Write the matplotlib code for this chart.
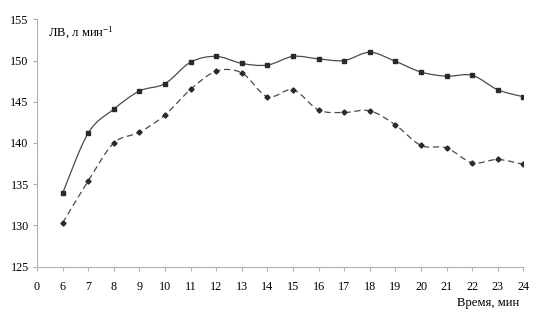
import matplotlib
matplotlib.use("Agg")
import matplotlib.pyplot as plt
from matplotlib.path import Path
from matplotlib.patches import PathPatch
import numpy as np

categories = ["0", "6", "7", "8", "9", "10", "11", "12", "13", "14", "15",
              "16", "17", "18", "19", "20", "21", "22", "23", "24"]
solid_vals = [133.9, 141.2, 144.1, 146.3, 147.2, 149.8, 150.5, 149.65, 149.45,
              150.5, 150.2, 150.0, 151.0, 149.9, 148.6, 148.1, 148.2, 146.45, 145.6]
dashed_vals = [130.3, 135.4, 140.0, 141.3, 143.4, 146.5, 148.7, 148.5, 145.6,
               146.45, 144.0, 143.7, 143.9, 142.2, 139.7, 139.4, 137.6, 138.0, 137.4]
y_ticks = [125, 130, 135, 140, 145, 150, 155]
y_label = "ЛВ, л мин$^{-1}$"
x_label = "Время, мин"

plt.rcParams['font.family'] = ['Liberation Serif', 'DejaVu Serif']
plt.rcParams['mathtext.fontset'] = 'custom'
plt.rcParams['mathtext.rm'] = 'Liberation Serif'
plt.rcParams['mathtext.it'] = 'Liberation Serif'

fig = plt.figure(figsize=(5.4, 3.36), dpi=100)
ax = fig.add_axes([0.0685, 0.2063, 0.9009, 0.7363])

xpos = np.arange(len(categories))
data_x = xpos[1:]


def smooth_path(x, y):
    pts = np.column_stack([x, y]).astype(float)
    n = len(pts)
    verts = [pts[0]]
    codes = [Path.MOVETO]
    for i in range(n - 1):
        p0 = pts[i - 1] if i > 0 else pts[i]
        p1 = pts[i]
        p2 = pts[i + 1]
        p3 = pts[i + 2] if i + 2 < n else pts[i + 1]
        c1 = p1 + (p2 - p0) / 6.0
        c2 = p2 - (p3 - p1) / 6.0
        verts += [c1, c2, p2]
        codes += [Path.CURVE4] * 3
    return Path(verts, codes)


line_color = '#4a4a4a'
ax.add_patch(PathPatch(smooth_path(data_x, solid_vals), fill=False,
                       edgecolor=line_color, lw=0.9))
ax.add_patch(PathPatch(smooth_path(data_x, dashed_vals), fill=False,
                       edgecolor=line_color, lw=0.9, linestyle=(0, (5, 3))))
ax.plot(data_x, solid_vals, linestyle='none', marker='s', ms=3.3,
        color='#2a2a2a')
ax.plot(data_x, dashed_vals, linestyle='none', marker='D', ms=2.6,
        color='#2a2a2a')

ax.set_xlim(0, len(categories) - 1)
ax.set_ylim(125, 155)
ax.set_xticks(xpos)
ax.set_xticklabels(categories)
ax.set_yticks(y_ticks)
for s in ['top', 'right']:
    ax.spines[s].set_visible(False)
for s in ['left', 'bottom']:
    ax.spines[s].set_color('#b0b0b0')
    ax.spines[s].set_linewidth(0.8)
ax.tick_params(axis='both', colors='#b0b0b0', labelcolor='black',
               labelsize=8.7, length=3, width=0.8)
ax.tick_params(axis='x', pad=7)
ax.tick_params(axis='y', pad=3)

fig.text(48 / 540, 1 - 33 / 336, y_label, fontsize=9.2, va='center', ha='left')
fig.text(488 / 540, 1 - 303 / 336, x_label, fontsize=9.2, va='center', ha='center')

fig.savefig("out.png", dpi=100)
